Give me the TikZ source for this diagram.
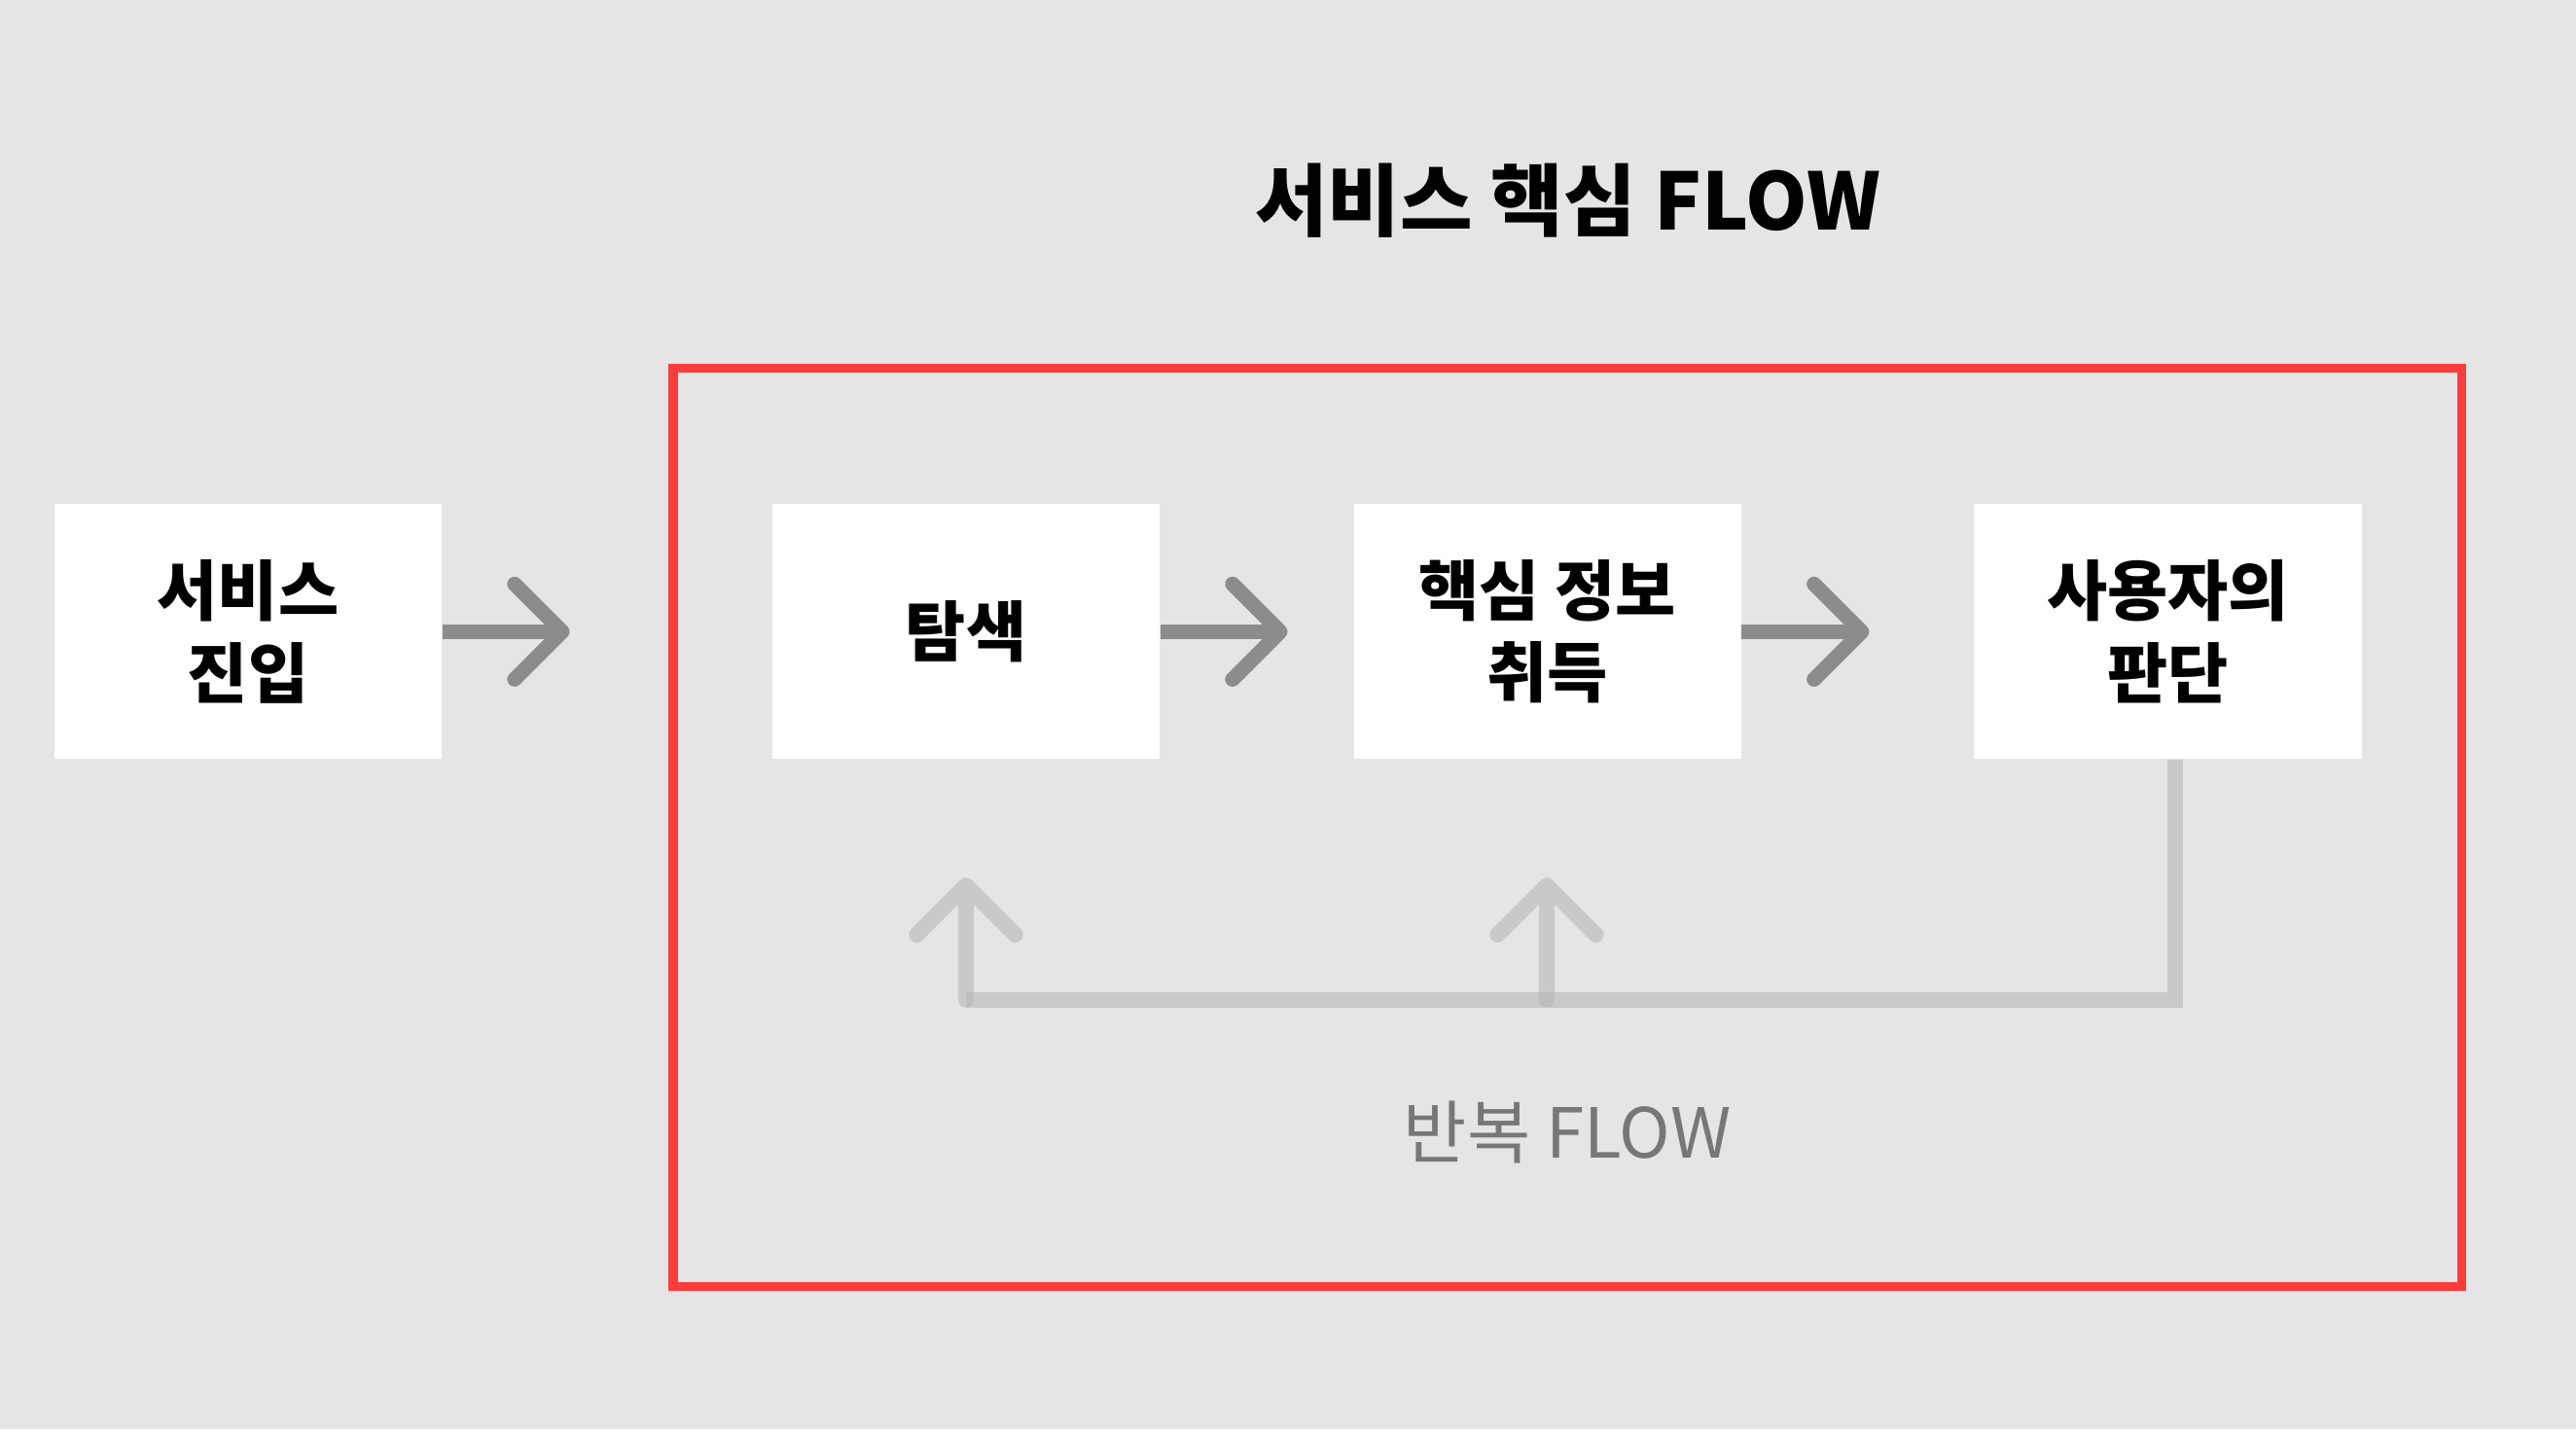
\documentclass[tikz,border=0pt]{standalone}
\usepackage{fontspec}
\setmainfont{Noto Sans CJK KR}
\definecolor{bgc}{HTML}{E5E5E5}
\definecolor{redc}{HTML}{FF3B3B}
\definecolor{arrowdark}{HTML}{8C8C8C}
\definecolor{fbgray}{HTML}{B7B7B7}
\definecolor{labelgray}{HTML}{777777}
\tikzset{
  box/.style={fill=white, minimum width=236pt, minimum height=155pt, inner sep=0pt,
    align=center, font=\fontsize{40}{50}\selectfont\bfseries},
  darkshaft/.style={draw=arrowdark, line width=9pt},
  darkhead/.style={draw=arrowdark, line width=9pt, line cap=round, line join=round},
  fbline/.style={draw=fbgray, draw opacity=0.6, line width=9.5pt},
  fbarrow/.style={fbline, line cap=round, line join=round},
  redframe/.style={draw=redc, line width=5.5pt}
}
\begin{document}
\begin{tikzpicture}[x=1pt,y=-1pt]
\useasboundingbox (0,0) rectangle (1568,870);
\fill[bgc] (0,0) rectangle (1568,870);

% frame
\draw[redframe] (409.7,224.2) rectangle (1498.5,783.2);

% title and label
\node[inner sep=0pt, font=\fontsize{48}{58}\selectfont\bfseries] (title) at (954.5,122) {서비스 핵심 FLOW};
\node[inner sep=0pt, font=\fontsize{42}{50}\selectfont, text=labelgray] (loop) at (954,689) {반복 FLOW};

% boxes
\node[box] (entry) at (151,384.5) {서비스\\진입};
\node[box] (search) at (588,384.5) {\raisebox{2pt}{탐색}};
\node[box] (info) at (942,384.5) {핵심 정보\\취득};
\node[box] (judge) at (1319.5,384.5) {사용자의\\판단};

% dark arrows
\coordinate (t1) at ([xshift=73pt]entry.east);
\coordinate (t2) at ([xshift=73pt]search.east);
\coordinate (t3) at ([xshift=73pt]info.east);
\draw[darkshaft] (entry.east) -- (t1);
\draw[darkhead] ([shift={(-29pt,29pt)}]t1) -- (t1) -- ([shift={(-29pt,-29pt)}]t1);
\draw[darkshaft] (search.east) -- (t2);
\draw[darkhead] ([shift={(-29pt,29pt)}]t2) -- (t2) -- ([shift={(-29pt,-29pt)}]t2);
\draw[darkshaft] (info.east) -- (t3);
\draw[darkhead] ([shift={(-29pt,29pt)}]t3) -- (t3) -- ([shift={(-29pt,-29pt)}]t3);

% feedback loop
\coordinate (fbR) at (1324,608.5);
\coordinate (fbL) at (588,608.5);
\coordinate (fbM) at (941.5,608.5);
\coordinate (tipA) at (588,539);
\coordinate (tipB) at (941.5,539);
\draw[fbline] (judge.south -| fbR) -- ([yshift=4.75pt]fbR);
\draw[fbline] ([xshift=4.75pt]fbR) -- (fbL);
\draw[fbarrow] (fbL) -- (tipA) ([shift={(-30pt,-30pt)}]tipA) -- (tipA) -- ([shift={(30pt,-30pt)}]tipA);
\draw[fbarrow] (fbM) -- (tipB) ([shift={(-30pt,-30pt)}]tipB) -- (tipB) -- ([shift={(30pt,-30pt)}]tipB);
\end{tikzpicture}
\end{document}
